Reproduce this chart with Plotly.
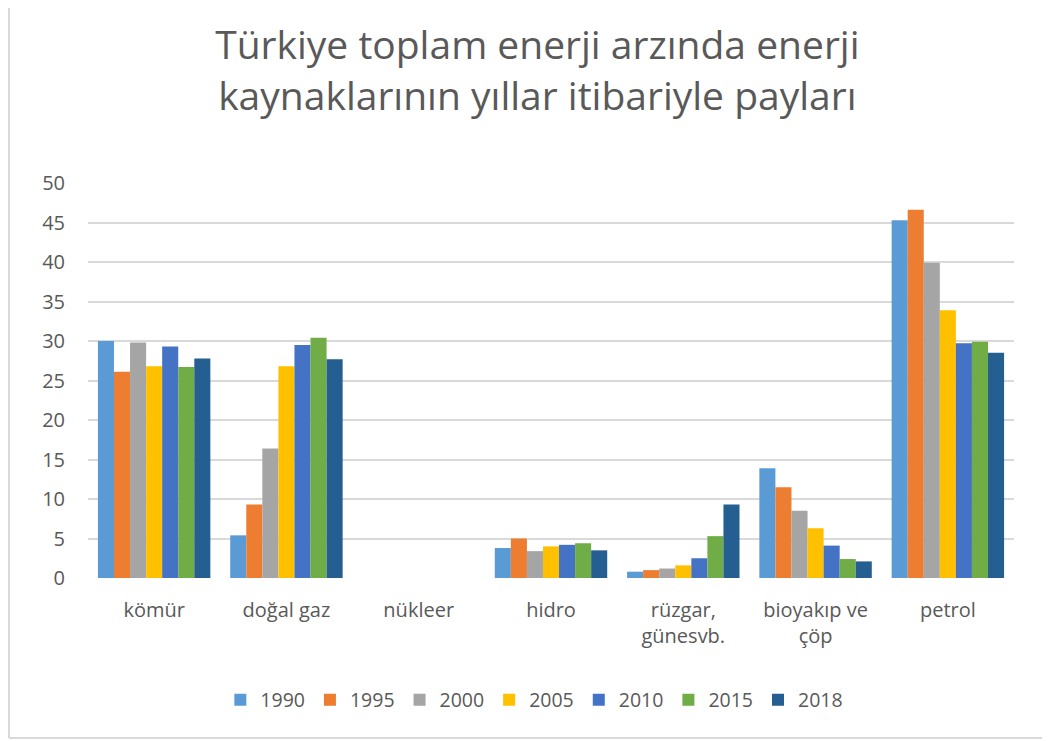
import plotly.graph_objects as go

categories = ["kömür", "doğal gaz", "nükleer", "hidro", "rüzgar,<br>günesvb.", "bioyakıp ve<br>çöp", "petrol"]
years = ["1990", "1995", "2000", "2005", "2010", "2015", "2018"]

v1990 = [30.0, 5.4, 0.0, 3.8, 0.8, 13.9, 45.3]
v1995 = [26.1, 9.3, 0.0, 5.0, 1.0, 11.5, 46.6]
v2000 = [29.8, 16.4, 0.0, 3.4, 1.2, 8.5, 39.9]
v2005 = [26.8, 26.8, 0.0, 4.0, 1.6, 6.3, 33.9]
v2010 = [29.3, 29.5, 0.0, 4.2, 2.5, 4.1, 29.7]
v2015 = [26.7, 30.4, 0.0, 4.4, 5.3, 2.4, 29.9]
v2018 = [27.8, 27.7, 0.0, 3.5, 9.3, 2.1, 28.5]

series = [v1990, v1995, v2000, v2005, v2010, v2015, v2018]
colors = ["#5B9BD5", "#ED7D31", "#A5A5A5", "#FFC000", "#4472C4", "#70AD47", "#255E91"]
ytick_vals = [0, 5, 10, 15, 20, 25, 30, 35, 40, 45, 50]

fig = go.Figure()
for name, vals, col in zip(years, series, colors):
    fig.add_trace(go.Bar(x=categories, y=vals, name=name, marker=dict(color=col, line=dict(width=0))))

W, H = 1042, 733
L, T, B, R = 80, 175, 163, 36
plot_w = W - L - R
plot_h = H - T - B
font_family = "'Open Sans', sans-serif"
fig.update_layout(
    width=W, height=H,
    paper_bgcolor="white", plot_bgcolor="white",
    margin=dict(l=L, r=R, t=T, b=B),
    barmode="group", bargap=0.15, bargroupgap=0.0,
    font=dict(family=font_family, color="#595959", size=20),
    title=dict(
        text="Türkiye toplam enerji arzında enerji<br>kaynaklarının yıllar itibariyle payları",
        x=0.508, xanchor="center", y=0.93, yanchor="middle",
        font=dict(size=39, color="#595959", family=font_family),
    ),
    yaxis=dict(range=[0, 50], tickvals=ytick_vals, showgrid=True, gridcolor="#D9D9D9", gridwidth=2,
               zeroline=False, showline=False, ticks="", ticklabelstandoff=22,
               tickfont=dict(size=20, color="#595959")),
    xaxis=dict(showline=False, ticks="", tickfont=dict(size=20, color="#595959"), ticklabelstandoff=18),
    legend=dict(orientation="h", x=0.482, xanchor="center", y=-0.309, yanchor="middle",
                font=dict(size=19.5, color="#595959"), itemwidth=30, tracegroupgap=0),
    showlegend=True,
)
bx = (1 - L) / plot_w
fig.add_shape(type="line", xref="paper", yref="paper", x0=bx, x1=bx,
              y0=(T + plot_h) / plot_h, y1=(T + plot_h - 730) / plot_h,
              line=dict(color="#D9D9D9", width=2))
fig.add_shape(type="line", xref="paper", yref="paper", x0=bx, x1=(W - 2 - L) / plot_w,
              y0=(T + plot_h - 730) / plot_h, y1=(T + plot_h - 730) / plot_h,
              line=dict(color="#D9D9D9", width=2))

fig.write_html("out.html")
